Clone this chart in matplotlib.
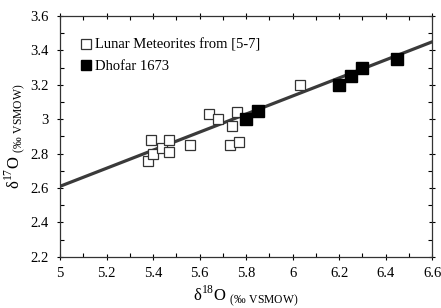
import matplotlib.pyplot as plt
import numpy as np
from matplotlib.ticker import MultipleLocator

plt.rcParams['font.family'] = 'Liberation Serif'
plt.rcParams['mathtext.fontset'] = 'custom'
plt.rcParams['mathtext.rm'] = 'Liberation Serif'

# Lunar meteorites from [5-7] (open squares)
lunar_x = [5.38, 5.39, 5.40, 5.44, 5.47, 5.47, 5.56, 5.64, 5.68, 5.73, 5.74, 5.76, 5.77, 6.03]
lunar_y = [2.76, 2.88, 2.80, 2.83, 2.88, 2.81, 2.85, 3.03, 3.00, 2.85, 2.96, 3.04, 2.87, 3.20]

# Dhofar 1673 (filled squares)
dhofar_x = [5.80, 5.85, 6.20, 6.25, 6.30, 6.45]
dhofar_y = [3.00, 3.05, 3.20, 3.25, 3.30, 3.35]

# reference line
line_slope = 0.525
line_intercept = -0.015

fig = plt.figure(figsize=(4.41, 3.08), dpi=100)
ax = fig.add_axes([0.136, 0.166, 0.844, 0.782])

xs = np.array([5.0, 6.6])
ax.plot(xs, line_slope * xs + line_intercept, color='#3a3a3a', lw=2.3, zorder=1)

ax.plot(lunar_x, lunar_y, 's', ms=7.5, mfc='white', mec='#333333', mew=0.9,
        ls='none', label='Lunar Meteorites from [5-7]', zorder=2)
ax.plot(dhofar_x, dhofar_y, 's', ms=8, mfc='black', mec='black',
        ls='none', label='Dhofar 1673', zorder=3)

ax.set_xlim(5, 6.6)
ax.set_ylim(2.2, 3.6)
ax.xaxis.set_minor_locator(MultipleLocator(0.1))
ax.yaxis.set_minor_locator(MultipleLocator(0.1))
ax.set_xticks(np.arange(5, 6.61, 0.2))
ax.set_xticklabels(['5', '5.2', '5.4', '5.6', '5.8', '6', '6.2', '6.4', '6.6'])
ax.set_yticks(np.arange(2.2, 3.61, 0.2))
ax.set_yticklabels(['2.2', '2.4', '2.6', '2.8', '3', '3.2', '3.4', '3.6'])
ax.tick_params(which='major', direction='inout', length=5, width=0.8,
               labelsize=10.5, top=True, right=True)
ax.tick_params(axis='y', which='major', pad=6)
ax.tick_params(axis='x', which='major', pad=5)
ax.tick_params(which='minor', direction='in', length=3, width=0.8, top=True, right=True)
for s in ax.spines.values():
    s.set_linewidth(0.9)
    s.set_color('#333333')

ax.set_xlabel('δ$^{18}$O $_{\\mathrm{(‰\\ VSMOW)}}$', fontsize=12, labelpad=2)
ax.set_ylabel('δ$^{17}$O $_{\\mathrm{(‰\\ VSMOW)}}$', fontsize=12, labelpad=2)

ax.legend(loc='upper left', frameon=False, fontsize=10.5, handlelength=0.6,
          handletextpad=0.3, borderaxespad=0.9, labelspacing=0.55,
          bbox_to_anchor=(0.008, 0.985), markerscale=0.9)

fig.savefig('out.png', dpi=100)
